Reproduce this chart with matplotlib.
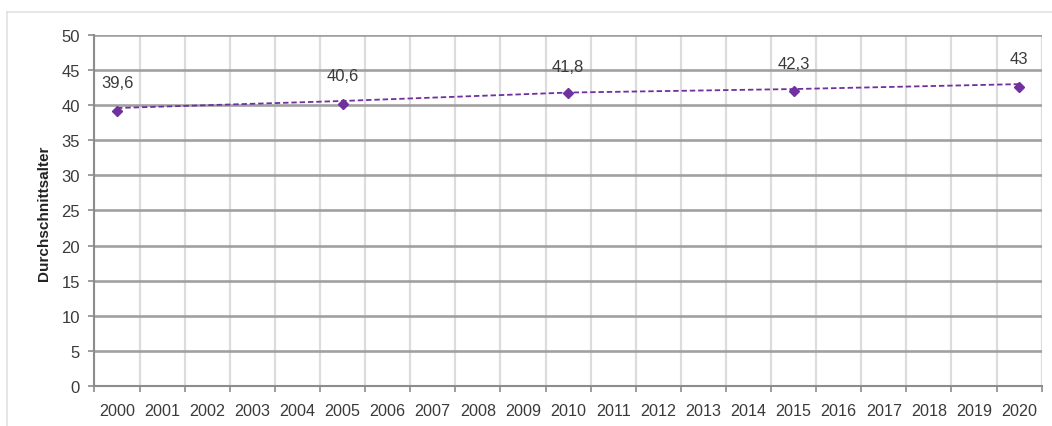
import matplotlib
matplotlib.use("Agg")
import matplotlib.pyplot as plt
from matplotlib.lines import Line2D

# ---- data ----
years = [str(y) for y in range(2000, 2021)]
point_years = ["2000", "2005", "2010", "2015", "2020"]
values = [39.6, 40.6, 41.8, 42.3, 43.0]          # labelled values (dashed line)
marker_values = [39.15, 40.1, 41.8, 42.0, 42.65]  # where the diamonds sit in the picture
value_labels = ["39,6", "40,6", "41,8", "42,3", "43"]
y_ticks = list(range(0, 51, 5))
y_label = "Durchschnittsalter"

FONT = ["Liberation Sans Narrow", "Liberation Sans", "DejaVu Sans"]
plt.rcParams["font.family"] = FONT
TXT = "#3a3a3a"
PURPLE = "#7030A0"
FS = 11.6

fig = plt.figure(figsize=(10.52, 4.27), dpi=100)
ax = fig.add_axes([0.0898, 0.0937, 0.9004, 0.822])

xpos = {y: i for i, y in enumerate(years)}
px = [xpos[y] for y in point_years]

ax.plot(px, values, linestyle=(0, (3, 1.6)), color=PURPLE, lw=1.3, zorder=3)
ax.plot(px, marker_values, linestyle="none", marker="D", markersize=5.6,
        color=PURPLE, zorder=4)
for x, v, t in zip(px, values, value_labels):
    ax.annotate(t, (x, v), xytext=(0, 18.5), textcoords="offset points",
                ha="center", va="center", fontsize=FS + 0.4, color=TXT)

ax.set_xlim(-0.5, len(years) - 0.5)
ax.set_ylim(0, 50)
ax.set_xticks(range(len(years)))
ax.set_xticklabels(years)
ax.set_xticks([i - 0.5 for i in range(len(years) + 1)], minor=True)
ax.set_yticks(y_ticks)

ax.tick_params(axis="x", which="major", length=0, pad=12, labelsize=FS, labelcolor=TXT)
ax.tick_params(axis="x", which="minor", length=4.5, width=1.2, color="#8c8c8c", direction="out")
ax.tick_params(axis="y", length=4.5, width=1.2, color="#8c8c8c", pad=6, labelsize=FS + 0.4, labelcolor=TXT)

ax.grid(True, axis="y", which="major", color="#a0a0a0", lw=1.9, zorder=1)
ax.grid(True, axis="x", which="minor", color="#dcdcdc", lw=1.6, zorder=1)
ax.grid(False, axis="x", which="major")
ax.set_axisbelow(True)

for s in ["top", "right"]:
    ax.spines[s].set_visible(False)
for s in ["left", "bottom"]:
    ax.spines[s].set_color("#8c8c8c")
    ax.spines[s].set_linewidth(1.5)

fig.text(0.0423, 0.5, y_label, rotation=90, ha="center", va="center",
         fontsize=11, fontweight="bold", color="#222222")

# outer frame (top and left edges visible)
fig.add_artist(Line2D([7 / 1052, 1], [1 - 12.5 / 427, 1 - 12.5 / 427],
                      color="#e2e2e2", lw=1.2, transform=fig.transFigure))
fig.add_artist(Line2D([7 / 1052, 7 / 1052], [0, 1 - 12.5 / 427],
                      color="#e2e2e2", lw=1.2, transform=fig.transFigure))

fig.savefig("out.png", dpi=100, facecolor="white")
